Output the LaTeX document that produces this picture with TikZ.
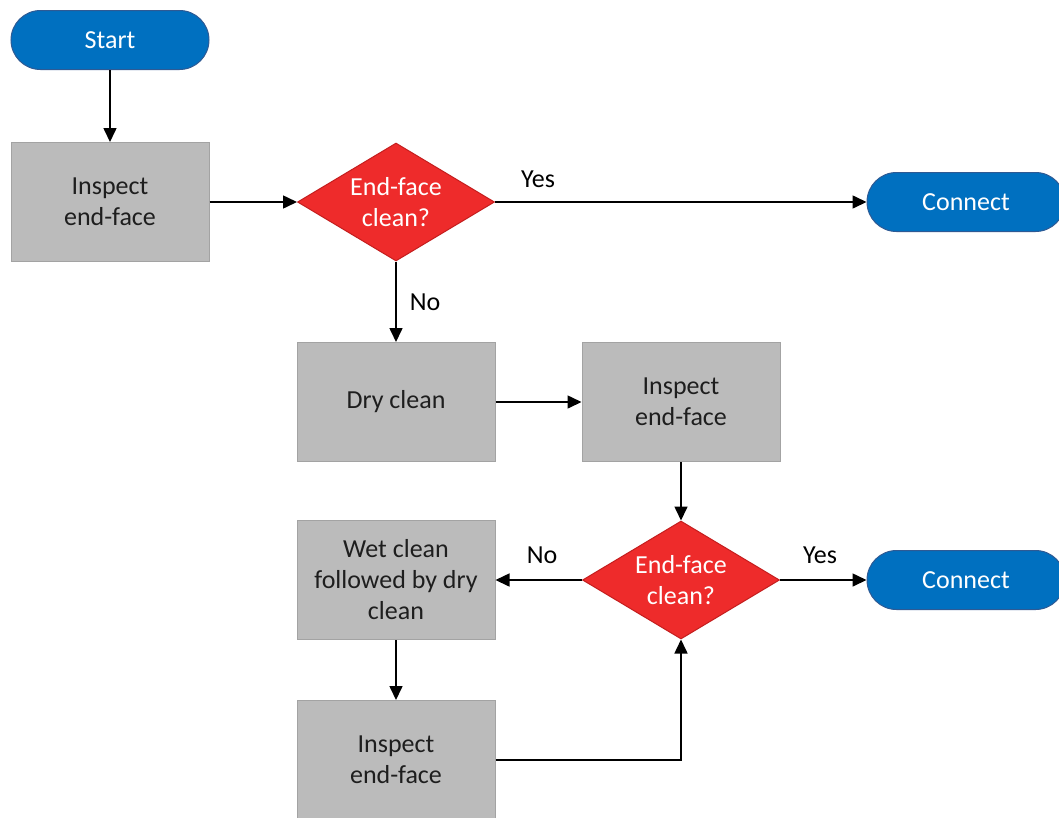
\documentclass[tikz,border=0pt]{standalone}
\usepackage{fontspec}
\setmainfont{Carlito}
\usetikzlibrary{shapes.geometric,arrows.meta}
\definecolor{termblue}{HTML}{0070C0}
\definecolor{termedge}{HTML}{2E5A94}
\definecolor{boxgray}{HTML}{BBBBBB}
\definecolor{boxedge}{HTML}{A3A3A3}
\definecolor{decred}{HTML}{EE2B2B}
\definecolor{decedge}{HTML}{C41E1E}
\definecolor{txt}{HTML}{1E1E1E}
\begin{document}
\begin{tikzpicture}[x=1pt,y=-1pt,
  every node/.style={font=\fontsize{26}{31}\selectfont},
  term/.style={draw=termedge,line width=1pt,fill=termblue,text=white,minimum width=198pt,minimum height=59pt,rounded corners=29.5pt,inner sep=0pt},
  procbox/.style={draw=boxedge,line width=1pt,fill=boxgray,text=txt,minimum width=198pt,minimum height=119pt,inner sep=0pt,align=center},
  decision/.style={diamond,aspect=1.67,draw=decedge,line width=1pt,fill=decred,text=white,minimum width=197pt,minimum height=118pt,inner sep=0pt,align=center},
  conn/.style={line width=1.6pt,-{Triangle[length=14pt,width=13pt]}},
  lbl/.style={text=black,inner sep=0pt}
]
\useasboundingbox (0,0) rectangle (1059,817);
\node[term] (start) at (110,40) {Start};
\node[procbox] (insp1) at (110,202) {Inspect\\end-face};
\node[decision] (d1) at (396,202) {End-face\\clean?};
\node[term] (c1) at (966,202) {Connect};
\node[procbox] (dry) at (396,402) {Dry clean};
\node[procbox] (insp2) at (681,402) {Inspect\\end-face};
\node[decision] (d2) at (681,580) {End-face\\clean?};
\node[term] (c2) at (966,580) {Connect};
\node[procbox] (wet) at (396,580) {Wet clean\\followed by dry\\clean};
\node[procbox] (insp3) at (396,760) {Inspect\\end-face};

\draw[conn] (start) -- (insp1);
\draw[conn] (insp1) -- (d1);
\draw[conn] (d1) -- (c1);
\draw[conn] (d1) -- (dry);
\draw[conn] (dry) -- (insp2);
\draw[conn] (insp2) -- (d2);
\draw[conn] (d2) -- (c2);
\draw[conn] (d2) -- (wet);
\draw[conn] (wet) -- (insp3);
\draw[conn] (insp3.east) -| (d2.south);

\node[lbl] (yes1) at (538,179) {Yes};
\node[lbl] (no1) at (425,302) {No};
\node[lbl] (yes2) at (820,555) {Yes};
\node[lbl] (no2) at (542,555) {No};
\end{tikzpicture}
\end{document}
